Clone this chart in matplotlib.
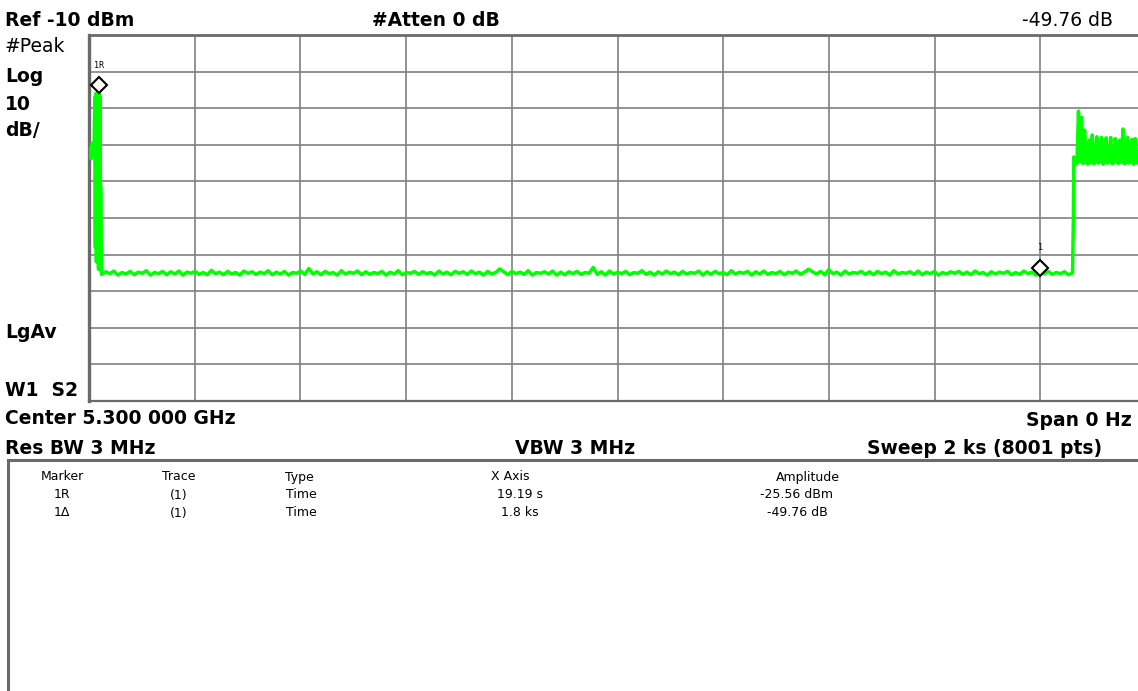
import matplotlib
matplotlib.use("Agg")
import matplotlib.pyplot as plt
from matplotlib.patches import Rectangle
from matplotlib.transforms import offset_copy
import numpy as np

# analyzer settings
ref_dbm = -10
db_per_div = 10
sweep_s = 2000.0

# trace: start of sweep (burst with marker peak)
lead_t = [0.0, 1.9, 3.8, 5.7, 7.6, 9.5, 11.0, 12.0, 13.0, 14.0, 15.0, 16.0,
          17.0, 18.0, 19.19, 20.0, 20.8, 21.6, 22.6, 23.4]
lead_dbm = [-41.8, -41.0, -43.8, -39.6, -42.6, -41.4, -27.0, -68.0, -26.0, -72.0,
            -25.9, -60.0, -26.2, -74.0, -25.56, -65.0, -26.6, -51.0, -51.5, -75.2]

# trace: noise floor
floor_start, floor_end = 24.0, 1861.0
floor_dbm = [
    -75.4, -74.7, -75.2, -74.5, -75.6, -74.9, -75.3, -74.6, -75.5, -74.8,
    -75.1, -74.4, -75.6, -74.9, -75.2, -74.6, -75.5, -74.7, -75.3, -74.5,
    -75.6, -74.8, -75.1, -74.6, -75.4, -74.9, -75.5, -74.3, -75.2, -74.8,
    -75.5, -74.6, -75.3, -74.9, -75.6, -74.5, -75.1, -74.7, -75.4, -74.8,
    -75.2, -74.4, -75.5, -74.8, -75.3, -74.6, -75.6, -74.9, -75.1, -74.5,
    -75.4, -73.8, -75.3, -74.7, -75.5, -74.6, -75.2, -74.9, -75.6, -74.4,
    -75.3, -74.8, -75.1, -74.5, -75.5, -74.7, -75.4, -74.9, -75.2, -74.6,
    -75.6, -74.8, -75.3, -74.4, -75.5, -74.9, -75.1, -74.6, -75.4, -74.7,
    -75.2, -74.9, -75.6, -74.5, -75.3, -74.8, -75.5, -74.6, -75.1, -74.7,
    -75.4, -74.5, -75.2, -74.8, -75.6, -74.6, -75.3, -74.9, -73.9, -74.7,
    -75.5, -74.6, -75.2, -74.8, -75.4, -74.4, -75.6, -74.9, -75.1, -74.7,
    -75.3, -74.5, -75.6, -74.8, -75.5, -74.7, -75.2, -74.6, -75.4, -74.9,
    -75.1, -73.5, -75.4, -74.7, -75.6, -74.5, -75.3, -74.8, -75.2, -74.6,
    -75.5, -74.9, -75.1, -74.4, -75.4, -74.8, -75.6, -74.7, -75.3, -74.5,
    -75.2, -74.8, -75.5, -74.6, -75.3, -74.9, -75.1, -74.5, -75.6, -74.7,
    -75.4, -74.6, -75.2, -74.9, -75.5, -74.4, -75.3, -74.8, -75.1, -74.6,
    -75.6, -74.7, -75.3, -74.5, -75.4, -74.9, -75.2, -74.6, -75.5, -74.8,
    -75.1, -74.5, -75.4, -74.8, -74.0, -74.7, -75.3, -74.6, -75.5, -74.1,
    -75.2, -74.8, -75.6, -74.5, -75.3, -74.9, -75.1, -74.6, -75.4, -74.7,
    -75.5, -74.6, -75.2, -74.8, -75.6, -74.4, -75.3, -74.9, -75.1, -74.7,
    -75.4, -74.5, -75.5, -74.8, -75.2, -74.6, -75.6, -74.9, -75.3, -74.7,
    -75.1, -74.6, -75.4, -74.8, -75.5, -74.5, -75.2, -74.9, -75.6, -74.7,
    -75.3, -74.8, -75.1, -74.6, -75.5, -74.9, -75.4, -74.5, -75.2, -74.8,
    -75.6, -74.7, -75.3, -74.6, -75.4, -74.9, -75.2, -74.7, -75.5, -75.0,
]

# trace: step up at end of sweep
step_t = [1862.6]
step_dbm = [-59.7]

# trace: burst at end of sweep
plateau_start, plateau_end = 1863.5, 2000.0
plateau_dbm = [
    -43.3, -44.8, -45.2, -30.8, -44.6, -32.5, -45.1, -36.0, -44.7, -45.3,
    -38.7, -44.9, -37.3, -45.2, -44.6, -37.8, -45.0, -44.7, -38.0, -45.3,
    -44.8, -38.1, -45.0, -44.6, -38.0, -45.2, -44.9, -38.3, -44.7, -45.1,
    -38.7, -44.8, -35.7, -45.2, -44.9, -38.0, -45.0, -44.6, -38.5, -45.3,
    -38.3, -44.8, -45.1, -38.0, -44.7, -39.0, -45.2, -38.0,
]

# markers
marker_labels = ["1R", "1"]
marker_t = [19.19, 1800.0]
marker_dbm = [-25.56, -25.56 - 49.76]

# marker table
table_header = ["Marker", "Trace", "Type", "X Axis", "Amplitude"]
table_rows = [
    ["1R", "(1)", "Time", "19.19 s", "-25.56 dBm"],
    ["1\u0394", "(1)", "Time", "1.8 ks", "-49.76 dB"],
]

trace_t = np.concatenate([lead_t,
                          np.linspace(floor_start, floor_end, len(floor_dbm)),
                          step_t,
                          np.linspace(plateau_start, plateau_end, len(plateau_dbm))])
trace_dbm = np.concatenate([lead_dbm, floor_dbm, step_dbm, plateau_dbm])

W, H = 1138, 691


def fx(x):
    return x / W


def fy(y):
    return 1 - y / H


fig = plt.figure(figsize=(W / 100, H / 100), dpi=100)
fig.patch.set_facecolor("white")

ax = fig.add_axes([fx(89), fy(401), 1057 / W, 366 / H])
ax.set_xlim(0, sweep_s)
ax.set_ylim(ref_dbm - 10 * db_per_div, ref_dbm)
ax.set_xticks(np.linspace(0, sweep_s, 11))
ax.set_yticks(np.arange(ref_dbm - 10 * db_per_div, ref_dbm + 1, db_per_div))
ax.tick_params(length=0, labelbottom=False, labelleft=False)
ax.grid(True, color="#808080", lw=1.2)
ax.set_axisbelow(True)
for name, sp in ax.spines.items():
    sp.set_color("#6a6a6a")
    sp.set_linewidth(1.6)
ax.spines["left"].set_linewidth(2.4)
ax.spines["top"].set_linewidth(2.0)

ax.plot(trace_t, trace_dbm, color="#00ff00", lw=2.5, zorder=3)

# diamonds sit a bit above the measured point, labels above them
mk_tr = offset_copy(ax.transData, fig=fig, x=0, y=4.7, units="points")
ax.plot(marker_t, marker_dbm, "D", ms=8.5, mfc="white", mec="black", mew=1.5,
        transform=mk_tr, zorder=5, clip_on=False)
for lab, t, a in zip(marker_labels, marker_t, marker_dbm):
    ax.annotate(lab, (t, a), xytext=(0, 19), textcoords="offset points",
                ha="center", va="center", fontsize=6, family="DejaVu Sans Mono",
                zorder=6, annotation_clip=False)

bold = dict(fontsize=13.5, fontweight="bold", va="center")
reg = dict(fontsize=13.5, va="center")
fig.text(fx(5), fy(21), "Ref -10 dBm", **bold)
fig.text(fx(372), fy(21), "#Atten 0 dB", **bold)
fig.text(fx(1113), fy(21), "-49.76 dB", ha="right", **reg)
fig.text(fx(5), fy(47), "#Peak", **reg)
fig.text(fx(5), fy(76), "Log", **bold)
fig.text(fx(5), fy(104), "10", **bold)
fig.text(fx(5), fy(131), "dB/", **bold)
fig.text(fx(5), fy(332), "LgAv", **bold)
fig.text(fx(5), fy(390), "W1  S2", **bold)
fig.text(fx(5), fy(419), "Center 5.300 000 GHz", **bold)
fig.text(fx(1132), fy(421), "Span 0 Hz", ha="right", **bold)
fig.text(fx(5), fy(448), "Res BW 3 MHz", **bold)
fig.text(fx(575), fy(448), "VBW 3 MHz", ha="center", **bold)
fig.text(fx(1102), fy(448), "Sweep 2 ks (8001 pts)", ha="right", **bold)

# marker table box
fig.patches.append(Rectangle((fx(8), -0.05), 1.1, fy(460) + 0.05,
                             transform=fig.transFigure, fill=False,
                             edgecolor="#6a6a6a", lw=2.2))

col_x = [62, 179, 299, 510, 808]
val_x = [62, 179, 301, 520, 797]
row_y = [477, 495, 513]
for x, s in zip(col_x, table_header):
    fig.text(fx(x), fy(row_y[0]), s, ha="center", va="center", fontsize=9)
for r, row in enumerate(table_rows):
    for x, s in zip(val_x, row):
        fig.text(fx(x), fy(row_y[r + 1]), s, ha="center", va="center", fontsize=9)

fig.savefig("out.png", dpi=100)
